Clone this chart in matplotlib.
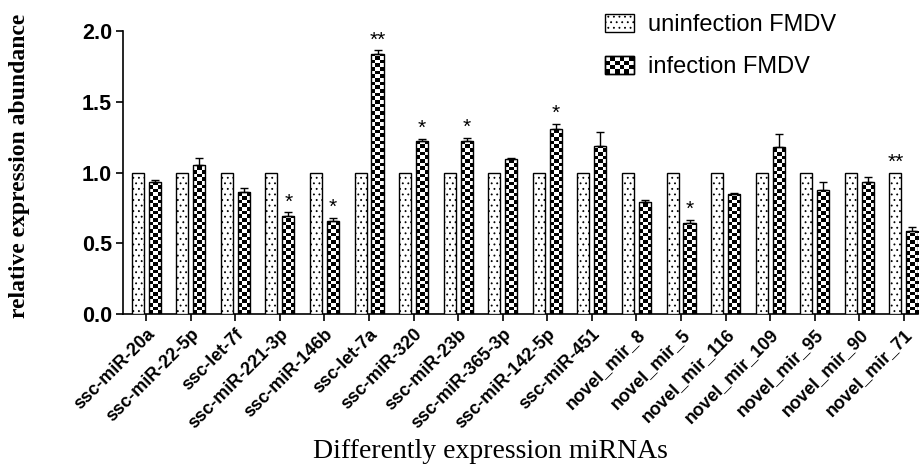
import numpy as np
import matplotlib.pyplot as plt
from matplotlib.patches import Rectangle
from matplotlib.legend_handler import HandlerBase

mirnas = ["ssc-miR-20a", "ssc-miR-22-5p", "ssc-let-7f", "ssc-miR-221-3p",
          "ssc-miR-146b", "ssc-let-7a", "ssc-miR-320", "ssc-miR-23b",
          "ssc-miR-365-3p", "ssc-miR-142-5p", "ssc-miR-451", "novel_mir_8",
          "novel_mir_5", "novel_mir_116", "novel_mir_109", "novel_mir_95",
          "novel_mir_90", "novel_mir_71"]
uninfected = [1.0] * 18
infected = [0.93, 1.055, 0.86, 0.69, 0.655, 1.84, 1.225, 1.22, 1.095, 1.31,
            1.185, 0.795, 0.645, 0.845, 1.18, 0.875, 0.93, 0.59]
infected_err = [0.015, 0.045, 0.03, 0.03, 0.025, 0.025, 0.012, 0.025, 0.005,
                0.035, 0.10, 0.012, 0.02, 0.01, 0.095, 0.06, 0.035, 0.025]
stars = ["", "", "", "*", "*", "**", "*", "*", "", "*", "", "", "*", "", "",
         "", "", "**"]
star_on = ["inf"] * 17 + ["uninf"]

serif = ["Liberation Serif", "DejaVu Serif"]
sans = ["Liberation Sans", "DejaVu Sans"]
plt.rcParams["font.family"] = sans
plt.rcParams["hatch.linewidth"] = 0.6
plt.rcParams["hatch.color"] = "#333333"

fig = plt.figure(figsize=(9.2, 4.65), dpi=100)
ax = fig.add_axes([0.1337, 0.3247, 0.8643, 0.6086])

x = np.arange(len(mirnas))
w = 0.27
off = 0.19
cell_h = 0.026

b1 = ax.bar(x - off, uninfected, w, facecolor="white", edgecolor="black",
            linewidth=1.0, hatch="...", zorder=3)
b2 = ax.bar(x + off, infected, w, facecolor="none", edgecolor="black",
            linewidth=1.0, zorder=3)

# checkerboard fill for the infected bars
for rect in b2:
    x0, y0 = rect.get_x(), rect.get_y()
    bw, bh = rect.get_width(), rect.get_height()
    nrow = int(np.ceil(bh / cell_h))
    board = np.add.outer(np.arange(nrow), np.arange(3)) % 2
    im = ax.imshow(board, cmap="gray", extent=(x0, x0 + bw, y0, y0 + nrow * cell_h),
                   origin="lower", aspect="auto", interpolation="nearest", zorder=2)
    im.set_clip_path(rect)

ax.errorbar(x + off, infected, yerr=[np.zeros(len(x)), infected_err], fmt="none",
            ecolor="black", elinewidth=1.0, capsize=3, capthick=1.0, zorder=4)

for i, s in enumerate(stars):
    if not s:
        continue
    if star_on[i] == "inf":
        xs, ys = x[i] + off, infected[i] + infected_err[i]
    else:
        xs, ys = x[i] - off, uninfected[i]
    ax.text(xs, ys + 0.005, s, ha="center", va="bottom", fontsize=15)

ax.set_xlim(-0.52, len(x) - 0.68)
ax.set_ylim(0, 2.0)
ax.set_yticks([0, 0.5, 1.0, 1.5, 2.0])
ax.set_yticklabels(["0.0", "0.5", "1.0", "1.5", "2.0"], fontsize=15.5, fontweight="bold")
ax.set_xticks(x)
ax.set_xticklabels(mirnas, rotation=45, ha="right", va="top", rotation_mode="anchor",
                   fontsize=13, fontweight="bold")
ax.tick_params(axis="both", direction="out", length=5, width=1.2, color="black")
ax.tick_params(axis="y", pad=3)
for sp in ["top", "right"]:
    ax.spines[sp].set_visible(False)
for sp in ["left", "bottom"]:
    ax.spines[sp].set_linewidth(1.2)

fig.text(0.021, 0.643, "relative expression abundance", rotation=90, ha="center",
         va="center", fontsize=17, fontweight="bold", family=serif)
fig.text(0.533, 0.028, "Differently expression miRNAs", ha="center", va="center",
         fontsize=20, family=serif)


class CheckerHandler(HandlerBase):
    def create_artists(self, legend, orig_handle, xdescent, ydescent, width,
                       height, fontsize, trans):
        arts = [Rectangle((-xdescent, -ydescent), width, height, facecolor="white",
                          edgecolor="black", linewidth=1.0, transform=trans)]
        nc, nr = 6, 4
        cw, ch = width / nc, height / nr
        for r in range(nr):
            for c in range(nc):
                if (r + c) % 2 == 0:
                    arts.append(Rectangle((-xdescent + c * cw, -ydescent + r * ch), cw, ch,
                                          facecolor="black", edgecolor="none",
                                          transform=trans))
        arts.append(Rectangle((-xdescent, -ydescent), width, height, facecolor="none",
                              edgecolor="black", linewidth=1.0, transform=trans))
        return arts


leg = fig.legend([b1, b2], ["uninfection FMDV", "infection FMDV"],
                 handler_map={b2: CheckerHandler()},
                 loc="upper left", bbox_to_anchor=(0.635, 1.015), frameon=False,
                 fontsize=17, handlelength=1.2, handleheight=0.75,
                 handletextpad=0.6, labelspacing=0.85)

fig.savefig("out.png", dpi=100)
